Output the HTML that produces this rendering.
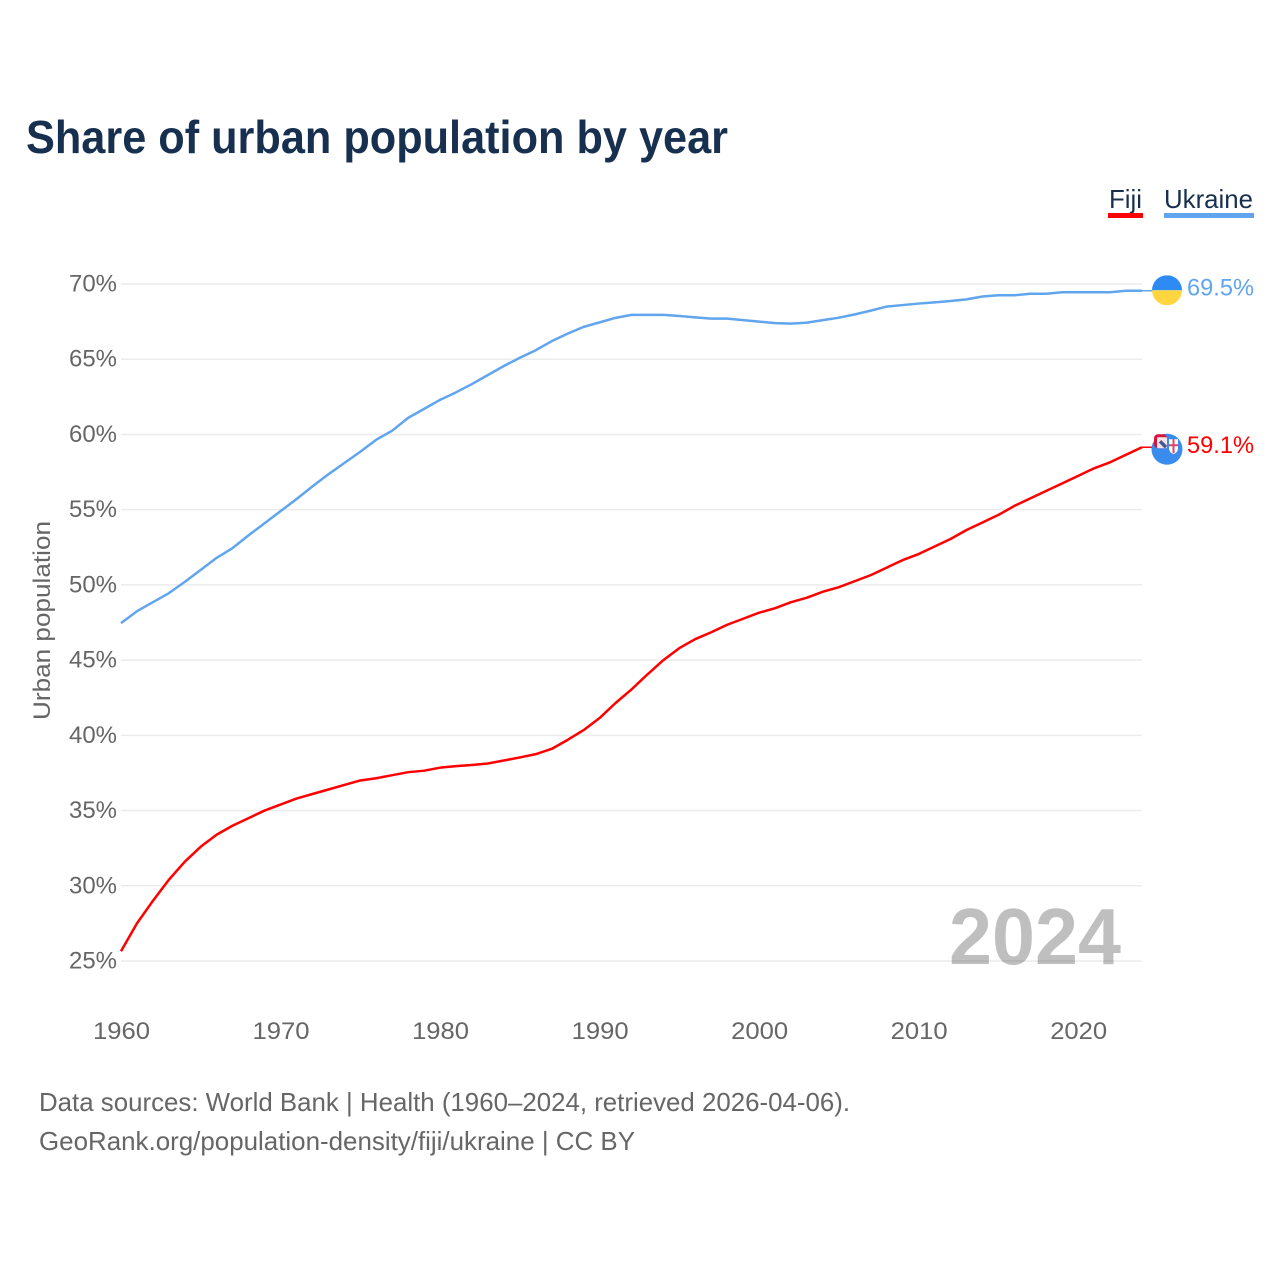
<!DOCTYPE html>
<html lang="en">
<head>
<meta charset="utf-8">
<title>Share of urban population by year</title>
<style>
html,body{margin:0;padding:0;background:#fff;width:1280px;height:1280px;overflow:hidden}
svg{display:block;font-family:"Liberation Sans",sans-serif}
</style>
</head>
<body>
<svg id="chart" width="1280" height="1280" viewBox="0 0 1280 1280" xmlns="http://www.w3.org/2000/svg">
  <defs>
    <clipPath id="flag-clip"><circle cx="0" cy="0" r="15"/></clipPath>
  </defs>
  <rect width="1280" height="1280" fill="#fff"/>
  <text x="26" y="153" font-size="46" font-weight="700" fill="#18304f" textLength="702" lengthAdjust="spacingAndGlyphs">Share of urban population by year</text>

  <g>
    <g>
      <text x="1109" y="208" font-size="26" fill="#18304f" textLength="33" lengthAdjust="spacingAndGlyphs">Fiji</text>
      <rect x="1108" y="213" width="35" height="5" fill="#ff0000"/>
    </g>
    <g>
      <text x="1164" y="208" font-size="26" fill="#18304f" textLength="89" lengthAdjust="spacingAndGlyphs">Ukraine</text>
      <rect x="1164" y="213" width="90" height="5" fill="#60a5ed"/>
    </g>
  </g>

  <g id="grid"></g>
  <g id="y-ticks"></g>
  <g id="x-ticks"></g>

  <text transform="translate(50 720) rotate(-90)" font-size="24.5" fill="#666" textLength="199" lengthAdjust="spacingAndGlyphs">Urban population</text>
  <text id="year-label" x="949" y="964" font-size="80" font-weight="700" fill="#000" fill-opacity="0.25" textLength="172" lengthAdjust="spacingAndGlyphs">2024</text>

  <g id="series"></g>
  <g id="markers"></g>

  <text x="39" y="1111" font-size="26" fill="#666" textLength="811" lengthAdjust="spacingAndGlyphs">Data sources: World Bank | Health (1960–2024, retrieved 2026-04-06).</text>
  <text x="39" y="1150" font-size="26" fill="#666" textLength="596" lengthAdjust="spacingAndGlyphs">GeoRank.org/population-density/fiji/ukraine | CC BY</text>
</svg>
<script>
const firstYear = 1960;
const lastYear = 2024;
const yearTicks = [1960, 1970, 1980, 1990, 2000, 2010, 2020];
const percentTicks = [25, 30, 35, 40, 45, 50, 55, 60, 65, 70];
const fijiValues = [
  25.65, 27.5, 29.0, 30.4, 31.6, 32.6, 33.4, 34.0, 34.5, 35.0,
  35.4, 35.8, 36.1, 36.4, 36.7, 37.0, 37.15, 37.35, 37.55, 37.65,
  37.85, 37.95, 38.03, 38.13, 38.33, 38.53, 38.75, 39.1, 39.7, 40.35,
  41.15, 42.15, 43.05, 44.05, 45.0, 45.8, 46.4, 46.85, 47.35, 47.75,
  48.15, 48.45, 48.85, 49.15, 49.55, 49.85, 50.25, 50.65, 51.15, 51.65,
  52.05, 52.55, 53.05, 53.65, 54.15, 54.65, 55.25, 55.75, 56.25, 56.75,
  57.25, 57.75, 58.15, 58.65, 59.15
];
const ukraineValues = [
  47.46, 48.25, 48.85, 49.45, 50.2, 51.0, 51.8, 52.45, 53.3, 54.1,
  54.9, 55.7, 56.55, 57.35, 58.1, 58.85, 59.65, 60.25, 61.1, 61.7,
  62.3, 62.8, 63.35, 63.95, 64.55, 65.1, 65.6, 66.2, 66.7, 67.15,
  67.45, 67.75, 67.95, 67.95, 67.95, 67.87, 67.78, 67.7, 67.7, 67.6,
  67.5, 67.4, 67.37, 67.43, 67.6, 67.76, 67.98, 68.23, 68.5, 68.6,
  68.7, 68.78, 68.87, 68.98, 69.17, 69.25, 69.25, 69.35, 69.35, 69.45,
  69.45, 69.45, 69.45, 69.55, 69.55
];
const fijiPrinted = "59.1%";
const ukrainePrinted = "69.5%";

const SVG_NS = "http://www.w3.org/2000/svg";
const xScale = function (year) { return 121 + (year - firstYear) * (1142 - 121) / (lastYear - firstYear); };
const yScale = function (pct) { return 961 - (pct - 25) * (961 - 284) / 45; };

function make(tag, attrs, parent) {
  const el = document.createElementNS(SVG_NS, tag);
  Object.keys(attrs).forEach(function (k) { el.setAttribute(k, attrs[k]); });
  parent.appendChild(el);
  return el;
}

const gridLayer = document.getElementById("grid");
const yLayer = document.getElementById("y-ticks");
percentTicks.forEach(function (p) {
  const line = make("line", { x1: 121, x2: 1142, y1: yScale(p), y2: yScale(p), stroke: "#ececec", "stroke-width": 1.5 }, gridLayer);
  
  
  const label = make("text", { x: 117, y: yScale(p) + 7.5, "text-anchor": "end", "font-size": 24.5, fill: "#666", textLength: 48, lengthAdjust: "spacingAndGlyphs" }, yLayer);
  
  
  label.textContent = p + "%";
});

const xLayer = document.getElementById("x-ticks");
yearTicks.forEach(function (yr) {
  const label = make("text", { x: xScale(yr) + 0.5, y: 1039, "text-anchor": "middle", "font-size": 24.5, fill: "#666", textLength: 57, lengthAdjust: "spacingAndGlyphs" }, xLayer);
  
  
  label.textContent = yr;
});

function pathFor(values) {
  return values.map(function (v, i) {
    return (i ? "L" : "M") + xScale(firstYear + i).toFixed(2) + " " + yScale(v).toFixed(2);
  }).join(" ");
}

const seriesLayer = document.getElementById("series");
const ukraineLine = make("path", { d: pathFor(ukraineValues), fill: "none", stroke: "#60a5ed", "stroke-width": 2.5, "stroke-linejoin": "round" }, seriesLayer);


const fijiLine = make("path", { d: pathFor(fijiValues), fill: "none", stroke: "#ff0000", "stroke-width": 2.5, "stroke-linejoin": "round" }, seriesLayer);



const markerLayer = document.getElementById("markers");
const ukraineEndY = yScale(ukraineValues[ukraineValues.length - 1]);
const fijiEndY = yScale(fijiValues[fijiValues.length - 1]);

const ukraineStub = make("line", { x1: 1142, x2: 1153, y1: ukraineEndY, y2: ukraineEndY, stroke: "#60a5ed", "stroke-width": 1.5 }, markerLayer);


const fijiStub = make("line", { x1: 1142, x2: 1153, y1: fijiEndY, y2: fijiEndY, stroke: "#ff0000", "stroke-width": 1.5 }, markerLayer);



const ukraineFlag = make("g", { transform: "translate(1167 " + (ukraineEndY - 0.5) + ")", "clip-path": "url(#flag-clip)" }, markerLayer);


make("rect", { x: -15, y: -15, width: 30, height: 15, fill: "#2f8bf4" }, ukraineFlag);
make("rect", { x: -15, y: 0, width: 30, height: 15, fill: "#ffd63f" }, ukraineFlag);

const fijiFlag = make("g", { transform: "translate(1167 " + (fijiEndY + 2) + ")" }, markerLayer);


make("circle", { cx: 0, cy: 0, r: 15.5, fill: "#3a8bee" }, fijiFlag);
make("rect", { x: -13, y: -15, width: 13, height: 14, rx: 4, fill: "#d8143c" }, fijiFlag);
make("rect", { x: -10, y: -12, width: 10, height: 11, rx: 1, fill: "#f3e6ea" }, fijiFlag);
make("path", { d: "M-7 -8 L-1 -2", stroke: "#4a5a90", "stroke-width": 3.5 }, fijiFlag);
make("path", { d: "M2 -10 H11 V-1 Q11 3 6.5 5 Q2 3 2 -1 Z", fill: "#fff" }, fijiFlag);
make("rect", { x: 5.5, y: -10, width: 2, height: 14, fill: "#e2455f" }, fijiFlag);
make("rect", { x: 2, y: -5, width: 9, height: 2, fill: "#e2455f" }, fijiFlag);

const ukraineLabel = make("text", { x: 1187, y: ukraineEndY + 4.5, "font-size": 24.5, fill: "#60a5ed", textLength: 67, lengthAdjust: "spacingAndGlyphs" }, markerLayer);


ukraineLabel.textContent = ukrainePrinted;
const fijiLabel = make("text", { x: 1187, y: fijiEndY + 6, "font-size": 24.5, fill: "#ff0000", textLength: 67, lengthAdjust: "spacingAndGlyphs" }, markerLayer);


fijiLabel.textContent = fijiPrinted;
</script>
</body>
</html>
